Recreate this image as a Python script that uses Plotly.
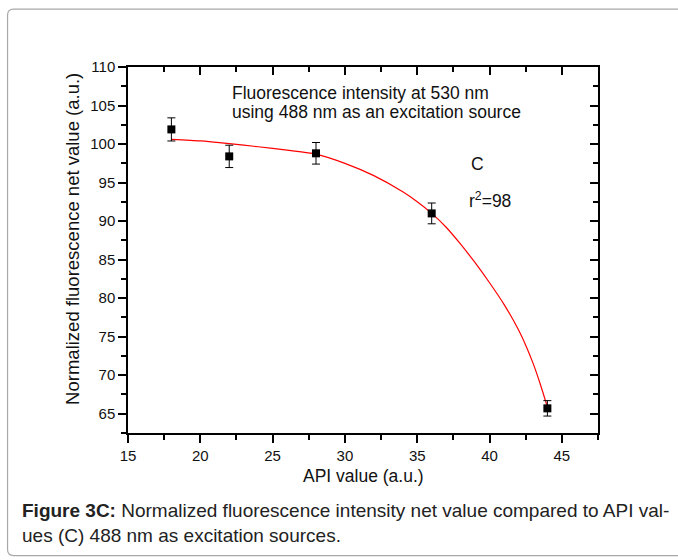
import plotly.graph_objects as go

# ---- data ----
api_values = [18, 22, 28, 36, 44]
fluor_values = [101.9, 98.4, 98.8, 91.0, 65.7]
fluor_errors = [1.5, 1.45, 1.4, 1.35, 1.0]

fit_x = [18, 20, 22, 24, 26, 28, 30, 32, 34, 35, 36, 37, 38, 39, 40, 41, 42, 42.5, 43, 43.5, 44]
fit_y = [100.6, 100.4, 100.05, 99.65, 99.2, 98.7, 97.5, 95.9, 93.8, 92.5, 91.0, 89.2,
         87.0, 84.6, 82.0, 79.2, 75.9, 73.9, 71.6, 68.9, 65.9]

x_ticks = [15, 20, 25, 30, 35, 40, 45]
y_ticks = [65, 70, 75, 80, 85, 90, 95, 100, 105, 110]

W, H = 678, 560
L, R, T, B = 127.5, 597.7, 67.0, 433.3   # plot area in pixels


def px(x):
    return (x - L) / (R - L)


def py(y):
    return (B - y) / (B - T)


FONT = "Liberation Sans, Arial, sans-serif"
TXT = "#111111"

fig = go.Figure()

fig.add_trace(go.Scatter(
    x=fit_x, y=fit_y, mode="lines",
    line=dict(color="#ff0000", width=1.2, shape="spline", smoothing=0.6),
    hoverinfo="skip", showlegend=False))

fig.add_trace(go.Scatter(
    x=api_values, y=fluor_values, mode="markers",
    marker=dict(symbol="square", size=8, color="black"),
    error_y=dict(type="data", array=fluor_errors, visible=True, color="black",
                 thickness=1, width=4),
    showlegend=False))

# dummy trace for the mirrored (inside-tick) axes
fig.add_trace(go.Scatter(x=[None], y=[None], xaxis="x2", yaxis="y2",
                         showlegend=False, hoverinfo="skip"))

common = dict(showline=True, linecolor="black", linewidth=1.5, showgrid=False,
              zeroline=False)

fig.update_layout(
    width=W, height=H,
    margin=dict(l=L, r=W - R, t=T, b=H - B, pad=0),
    paper_bgcolor="white", plot_bgcolor="white",
    font=dict(family=FONT, color=TXT),
    xaxis=dict(range=[15, 47.5], tickvals=x_ticks, ticks="outside", ticklen=8,
               tickwidth=1.5, tickcolor="black",
               minor=dict(dtick=2.5, tick0=15, ticks="outside", ticklen=5,
                          tickwidth=1.5, tickcolor="black"),
               tickfont=dict(size=15, color=TXT), **common),
    yaxis=dict(range=[62.5, 110], tickvals=y_ticks, ticks="outside", ticklen=8,
               tickwidth=1.5, tickcolor="black",
               minor=dict(dtick=2.5, tick0=65, ticks="outside", ticklen=5,
                          tickwidth=1.5, tickcolor="black"),
               tickfont=dict(size=15, color=TXT), **common),
    xaxis2=dict(range=[15, 47.5], overlaying="x", side="top", tickvals=x_ticks,
                ticks="inside", ticklen=8, tickwidth=1.5, tickcolor="black",
                showticklabels=False,
                minor=dict(dtick=2.5, tick0=15, ticks="inside", ticklen=5,
                           tickwidth=1.5, tickcolor="black"),
                **common),
    yaxis2=dict(range=[62.5, 110], overlaying="y", side="right", tickvals=y_ticks,
                ticks="inside", ticklen=8, tickwidth=1.5, tickcolor="black",
                showticklabels=False,
                minor=dict(dtick=2.5, tick0=65, ticks="inside", ticklen=5,
                           tickwidth=1.5, tickcolor="black"),
                **common),
)

ann = []
# axis titles
ann.append(dict(text="API value (a.u.)", x=px(362.6), y=py(476), xref="paper", yref="paper",
                xanchor="center", yanchor="middle", showarrow=False,
                font=dict(size=17.5, color=TXT)))
ann.append(dict(text="Normalized fluorescence net value (a.u.)", x=px(72.5), y=py(239),
                xref="paper", yref="paper", xanchor="center", yanchor="middle",
                textangle=-90, showarrow=False, font=dict(size=18.5, color=TXT)))
# in-plot text
ann.append(dict(text="Fluorescence intensity at 530 nm", x=px(230), y=py(93.5),
                xref="paper", yref="paper", xanchor="left", yanchor="middle",
                showarrow=False, font=dict(size=17.5, color=TXT)))
ann.append(dict(text="using 488 nm as an excitation source", x=px(230), y=py(112),
                xref="paper", yref="paper", xanchor="left", yanchor="middle",
                showarrow=False, font=dict(size=17.5, color=TXT)))
ann.append(dict(text="C", x=px(477), y=py(164), xref="paper", yref="paper",
                xanchor="center", yanchor="middle", showarrow=False,
                font=dict(size=17.5, color=TXT)))
ann.append(dict(text="r<sup>2</sup>=98", x=px(467), y=py(200), xref="paper", yref="paper",
                xanchor="left", yanchor="middle", showarrow=False,
                font=dict(size=17.5, color=TXT)))
# caption
ann.append(dict(text="<b>Figure 3C:</b> Normalized fluorescence intensity net value compared to API val-",
                x=px(19), y=py(511), xref="paper", yref="paper", xanchor="left",
                yanchor="middle", showarrow=False,
                font=dict(size=19, color="#222222")))
ann.append(dict(text="ues (C) 488 nm as excitation sources.",
                x=px(19), y=py(536), xref="paper", yref="paper", xanchor="left",
                yanchor="middle", showarrow=False,
                font=dict(size=19, color="#222222")))
fig.update_layout(annotations=ann)

# rounded outer frame
x0, y0, x1, y1, r = 7, 9, 690, 556, 6
path = (f"M {px(x0 + r)},{py(y0)} L {px(x1)},{py(y0)} L {px(x1)},{py(y1)} "
        f"L {px(x0 + r)},{py(y1)} Q {px(x0)},{py(y1)} {px(x0)},{py(y1 - r)} "
        f"L {px(x0)},{py(y0 + r)} Q {px(x0)},{py(y0)} {px(x0 + r)},{py(y0)}")
fig.add_shape(type="path", path=path, xref="paper", yref="paper",
              line=dict(color="#a8a8a8", width=1.2), layer="below")

fig.write_html("out.html", config={"displayModeBar": False},
               post_script="document.body.style.margin='0';document.body.style.padding='0';")
